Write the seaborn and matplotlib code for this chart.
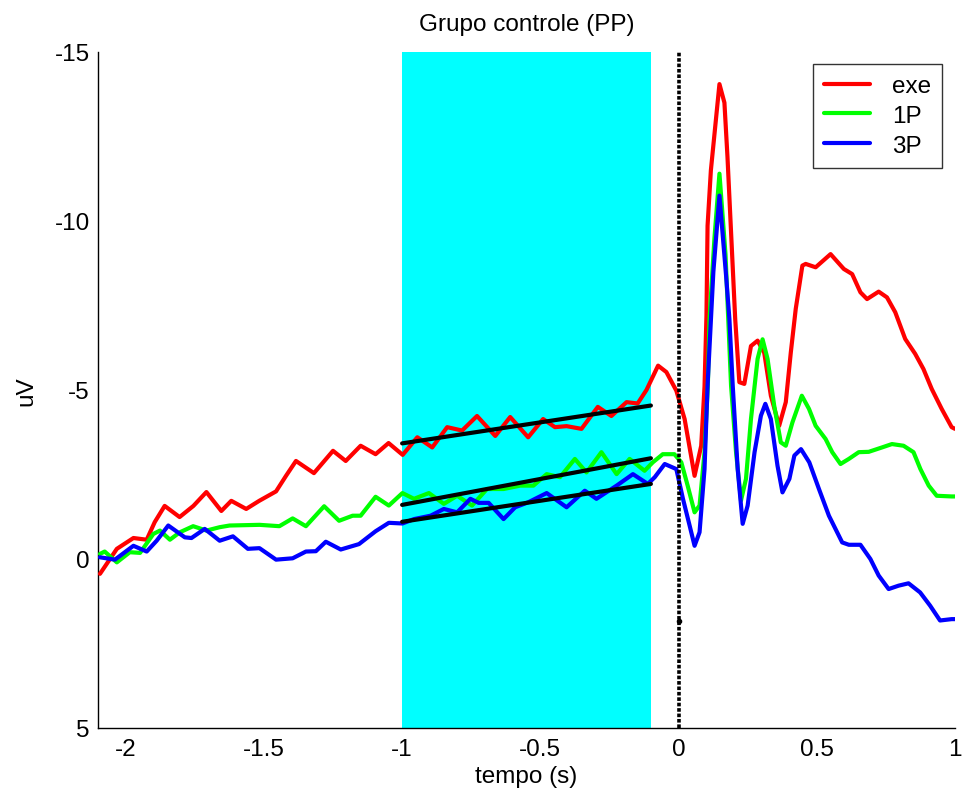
import numpy as np
import pandas as pd
import matplotlib
matplotlib.use("Agg")
import matplotlib.pyplot as plt
import seaborn as sns
from matplotlib.lines import Line2D

# ---- data ----
exe_t = [-2.093, -2.032, -1.972, -1.924, -1.895, -1.859, -1.805, -1.755, -1.708, -1.654,
         -1.618, -1.564, -1.517, -1.456, -1.420, -1.384, -1.319, -1.250, -1.204, -1.150,
         -1.096, -1.049, -0.998, -0.945, -0.891, -0.837, -0.783, -0.729, -0.663, -0.609,
         -0.544, -0.490, -0.447, -0.405, -0.351, -0.292, -0.243, -0.188, -0.148, -0.116,
         -0.074, -0.044, -0.008, 0.022, 0.058, 0.082, 0.094, 0.101, 0.105, 0.117,
         0.148, 0.166, 0.177, 0.190, 0.205, 0.220, 0.238, 0.262, 0.286, 0.310,
         0.334, 0.364, 0.388, 0.406, 0.424, 0.448, 0.460, 0.496, 0.550, 0.598,
         0.628, 0.658, 0.682, 0.724, 0.754, 0.784, 0.820, 0.856, 0.886, 0.916,
         0.952, 0.988, 1.000]
exe_v = [0.44, -0.30, -0.62, -0.57, -1.09, -1.57, -1.24, -1.57, -1.98, -1.42,
         -1.72, -1.48, -1.72, -2.00, -2.46, -2.90, -2.54, -3.20, -2.90, -3.35,
         -3.10, -3.43, -3.08, -3.60, -3.30, -3.90, -3.80, -4.23, -3.64, -4.20,
         -3.60, -4.14, -3.90, -3.93, -3.85, -4.50, -4.23, -4.64, -4.60, -5.00,
         -5.72, -5.53, -4.98, -4.14, -2.46, -3.35, -5.10, -7.20, -9.86, -11.50,
         -14.05, -13.50, -11.90, -9.67, -7.10, -5.23, -5.18, -6.30, -6.46, -6.10,
         -4.83, -3.94, -4.64, -6.10, -7.40, -8.68, -8.73, -8.63, -9.02, -8.58,
         -8.43, -7.89, -7.69, -7.91, -7.74, -7.30, -6.51, -6.07, -5.62, -5.03,
         -4.44, -3.90, -3.85]

p1_t = [-2.093, -2.076, -2.032, -1.985, -1.948, -1.900, -1.876, -1.840, -1.804, -1.756,
        -1.708, -1.660, -1.624, -1.516, -1.444, -1.396, -1.348, -1.282, -1.228, -1.179,
        -1.150, -1.096, -1.048, -0.999, -0.957, -0.903, -0.849, -0.801, -0.747, -0.693,
        -0.633, -0.573, -0.525, -0.477, -0.429, -0.375, -0.333, -0.279, -0.224, -0.177,
        -0.123, -0.093, -0.057, -0.015, 0.010, 0.033, 0.058, 0.076, 0.094, 0.106,
        0.112, 0.130, 0.148, 0.170, 0.190, 0.208, 0.226, 0.244, 0.262, 0.286,
        0.304, 0.322, 0.346, 0.370, 0.388, 0.412, 0.446, 0.472, 0.496, 0.532,
        0.556, 0.586, 0.616, 0.652, 0.688, 0.736, 0.772, 0.814, 0.850, 0.875,
        0.905, 0.934, 0.988, 1.000]
p1_v = [-0.15, -0.22, 0.10, -0.20, -0.18, -0.74, -0.84, -0.57, -0.79, -0.97,
        -0.84, -0.94, -0.99, -1.01, -0.97, -1.20, -0.97, -1.56, -1.13, -1.28,
        -1.28, -1.84, -1.58, -1.95, -1.78, -1.95, -1.63, -1.87, -1.58, -2.07,
        -2.07, -2.17, -2.17, -2.51, -2.42, -2.96, -2.56, -3.16, -2.51, -2.96,
        -2.61, -2.86, -3.10, -3.10, -2.86, -2.17, -1.38, -1.58, -3.16, -5.13,
        -7.10, -9.50, -11.40, -9.00, -5.13, -3.16, -1.73, -2.37, -4.14, -5.92,
        -6.50, -5.92, -4.54, -3.45, -3.35, -4.04, -4.83, -4.44, -3.94, -3.55,
        -3.16, -2.81, -2.96, -3.16, -3.17, -3.30, -3.40, -3.35, -3.16, -2.66,
        -2.17, -1.87, -1.85, -1.85]

p3_t = [-2.093, -2.039, -1.972, -1.924, -1.888, -1.846, -1.786, -1.762, -1.714, -1.660,
        -1.612, -1.558, -1.516, -1.456, -1.396, -1.348, -1.312, -1.276, -1.222, -1.156,
        -1.096, -1.048, -0.999, -0.957, -0.897, -0.849, -0.801, -0.753, -0.723, -0.687,
        -0.633, -0.591, -0.543, -0.477, -0.405, -0.339, -0.297, -0.224, -0.165, -0.111,
        -0.086, -0.050, -0.008, 0.016, 0.040, 0.058, 0.076, 0.094, 0.105, 0.126,
        0.148, 0.172, 0.184, 0.196, 0.214, 0.232, 0.250, 0.275, 0.298, 0.314,
        0.334, 0.358, 0.376, 0.401, 0.419, 0.443, 0.473, 0.508, 0.544, 0.592,
        0.616, 0.658, 0.694, 0.724, 0.760, 0.796, 0.832, 0.874, 0.910, 0.946,
        0.988, 1.000]
p3_v = [-0.05, 0.02, -0.39, -0.22, -0.54, -0.99, -0.64, -0.62, -0.89, -0.54,
        -0.67, -0.30, -0.32, 0.02, -0.02, -0.22, -0.23, -0.51, -0.28, -0.44,
        -0.82, -1.07, -1.05, -1.18, -1.28, -1.48, -1.38, -1.78, -1.66, -1.66,
        -1.18, -1.53, -1.68, -1.95, -1.53, -2.02, -1.78, -2.17, -2.51, -2.22,
        -2.42, -2.81, -2.66, -1.78, -0.99, -0.39, -0.79, -2.66, -5.13, -8.50,
        -10.75, -8.38, -7.10, -5.13, -2.66, -1.04, -1.58, -3.16, -4.24, -4.59,
        -4.14, -2.76, -1.97, -2.37, -3.06, -3.25, -2.86, -2.07, -1.28, -0.49,
        -0.42, -0.42, 0.00, 0.49, 0.89, 0.79, 0.72, 0.99, 1.38, 1.82,
        1.78, 1.78]

conditions = ["exe", "1P", "3P"]
colors = ["#ff0000", "#00ff00", "#0000ff"]

# linear trends over the shaded window [-1, -0.1]
fit_t = [-1.0, -0.1]
fit_exe = [-3.42, -4.54]
fit_1p = [-1.60, -2.98]
fit_3p = [-1.10, -2.22]

window = [-1.0, -0.1]
marker_point = [0.0, 1.85]

xticks = [-2, -1.5, -1, -0.5, 0, 0.5, 1]
xticklabels = ["-2", "-1.5", "-1", "-0.5", "0", "0.5", "1"]
yticks = [-15, -10, -5, 0, 5]
yticklabels = ["-15", "-10", "-5", "0", "5"]

# ---- build long table ----
df = pd.concat([
    pd.DataFrame({"t": exe_t, "v": exe_v, "cond": "exe"}),
    pd.DataFrame({"t": p1_t, "v": p1_v, "cond": "1P"}),
    pd.DataFrame({"t": p3_t, "v": p3_v, "cond": "3P"}),
], ignore_index=True)

fits = pd.concat([
    pd.DataFrame({"t": fit_t, "v": fit_exe, "cond": "exe"}),
    pd.DataFrame({"t": fit_t, "v": fit_1p, "cond": "1P"}),
    pd.DataFrame({"t": fit_t, "v": fit_3p, "cond": "3P"}),
], ignore_index=True)

sns.set_style("white")
plt.rcParams["font.family"] = ["Liberation Sans", "DejaVu Sans"]
plt.rcParams["text.color"] = "black"
plt.rcParams["axes.labelcolor"] = "black"
plt.rcParams["xtick.color"] = "black"
plt.rcParams["ytick.color"] = "black"

FS = 17.5

fig = plt.figure(figsize=(9.65, 8.03), dpi=100)
ax = fig.add_axes([0.1016, 0.0922, 0.888, 0.8418])

ax.axvspan(window[0], window[1], color="#00ffff", zorder=0, lw=0)

sns.lineplot(data=df, x="t", y="v", hue="cond", hue_order=conditions,
             palette=colors, estimator=None, sort=False, lw=3.0, ax=ax,
             legend=False, zorder=3)

for c in conditions:
    sub = fits[fits["cond"] == c]
    sns.lineplot(data=sub, x="t", y="v", color="black", lw=3.0,
                 estimator=None, ax=ax, zorder=4)

ax.axvline(0, color="black", ls=(0, (1, 0.5)), lw=2.6, zorder=5)
ax.plot([marker_point[0]], [marker_point[1]], "o", color="black", ms=3, zorder=6)

ax.set_xlim(-2.1, 1.0)
ax.set_ylim(5, -15)
ax.set_xticks(xticks)
ax.set_xticklabels(xticklabels)
ax.set_yticks(yticks)
ax.set_yticklabels(yticklabels)

for s in ["top", "right"]:
    ax.spines[s].set_visible(False)
for s in ["left", "bottom"]:
    ax.spines[s].set_color("black")
    ax.spines[s].set_linewidth(1.0)

ax.tick_params(axis="both", direction="in", length=5.5, width=1.0,
               colors="black", labelsize=FS)
ax.tick_params(axis="x", pad=7)
ax.tick_params(axis="y", pad=6)

ax.set_title("Grupo controle (PP)", fontsize=FS, pad=16, color="black")
ax.set_xlabel("tempo (s)", fontsize=FS, labelpad=4)
ax.set_ylabel("uV", fontsize=FS, labelpad=12)

handles = [Line2D([], [], color=col, lw=3.0) for col in colors]
leg = ax.legend(handles, conditions, loc="upper right",
                bbox_to_anchor=(0.985, 0.982), fontsize=FS,
                frameon=True, fancybox=False, edgecolor="black",
                handlelength=1.9, handletextpad=0.9, labelspacing=0.32,
                borderpad=0.45, borderaxespad=0.0)
leg.get_frame().set_linewidth(1.0)
for t in leg.get_texts():
    t.set_color("black")

fig.savefig("out.png", dpi=100)
